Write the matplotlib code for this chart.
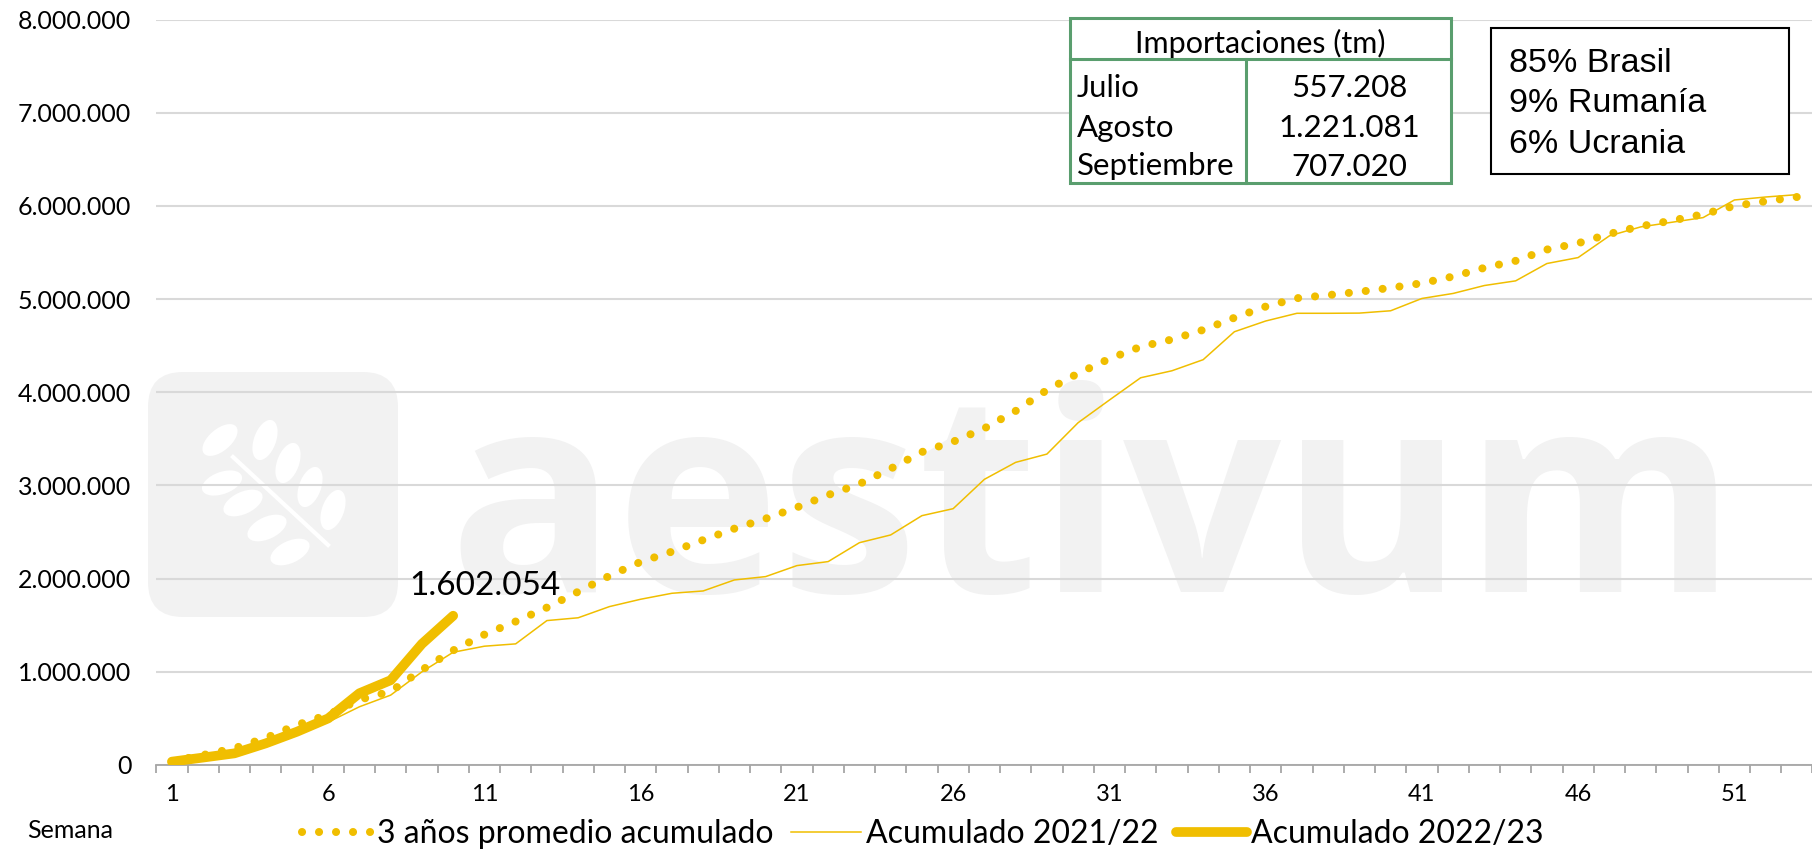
import matplotlib
matplotlib.use("Agg")
import matplotlib.pyplot as plt
from matplotlib.patches import Rectangle, FancyBboxPatch, Ellipse
from matplotlib.lines import Line2D
from matplotlib.ticker import FixedLocator, FuncFormatter

plt.rcParams['font.family'] = ['Lato', 'DejaVu Sans']

# data (tm acumuladas por semana)
semanas = list(range(1, 54))
promedio_3a = [0.04, 0.107, 0.18, 0.29, 0.43, 0.54, 0.70, 0.79, 1.02, 1.23,
               1.40, 1.54, 1.69, 1.86, 2.03, 2.18, 2.29, 2.415, 2.537, 2.644,
               2.765, 2.898, 3.016, 3.18, 3.359, 3.47, 3.613, 3.80, 4.024, 4.203,
               4.36, 4.489, 4.567, 4.67, 4.80, 4.92, 5.01, 5.043, 5.079, 5.121,
               5.171, 5.243, 5.336, 5.411, 5.532, 5.60, 5.70, 5.782, 5.843, 5.911,
               6.0, 6.05, 6.096]
acum_2122 = [0.02, 0.06, 0.09, 0.23, 0.34, 0.46, 0.625, 0.75, 1.0, 1.21,
             1.275, 1.30, 1.55, 1.58, 1.70, 1.779, 1.843, 1.868, 1.986, 2.022,
             2.140, 2.183, 2.386, 2.469, 2.676, 2.751, 3.066, 3.248, 3.337, 3.674,
             3.917, 4.156, 4.231, 4.35, 4.65, 4.765, 4.848, 4.848, 4.85, 4.875,
             5.007, 5.061, 5.146, 5.196, 5.382, 5.446, 5.679, 5.775, 5.825, 5.875,
             6.064, 6.096, 6.121]
acum_2223 = [0.036, 0.08, 0.125, 0.232, 0.357, 0.50, 0.77, 0.91, 1.30, 1.602054]

promedio_3a = [v * 1e6 for v in promedio_3a]
acum_2122 = [v * 1e6 for v in acum_2122]
acum_2223 = [v * 1e6 for v in acum_2223]

meses = ['Julio', 'Agosto', 'Septiembre']
importaciones = ['557.208', '1.221.081', '707.020']
origenes = ['85% Brasil', '9% Rumanía', '6% Ucrania']

W, H = 1812, 850
AMARILLO = '#F0BE00'
VERDE = '#5A9E6E'
GRIS = '#F2F2F2'


def fx(x):
    return x / W


def fy(y):
    return 1 - y / H


fig = plt.figure(figsize=(W / 100, H / 100), dpi=100)
ax = fig.add_axes([fx(156.3), fy(765), fx(1812.5 - 156.3), (765 - 19.6) / H])
ax.patch.set_visible(False)

# marca de agua
logo = FancyBboxPatch((1.48, 2.33), 2.50, 2.45, boxstyle='round,pad=0,rounding_size=0.35',
                      transform=fig.dpi_scale_trans, facecolor=GRIS, edgecolor='none', zorder=-3)
fig.add_artist(logo)
fig.add_artist(Line2D([2.33, 3.28], [8.50 - 4.57, 8.50 - 5.45], transform=fig.dpi_scale_trans,
                      color='white', lw=3, zorder=-2))
hojas = [(2.20, 4.40, 40), (2.22, 4.83, 20), (2.43, 5.03, 25), (2.67, 5.28, 25), (2.90, 5.52, 25),
         (2.65, 4.40, 70), (2.88, 4.63, 70), (3.10, 4.87, 70), (3.33, 5.10, 70)]
for hx, hy, ang in hojas:
    fig.add_artist(Ellipse((hx, 8.50 - hy), 0.42, 0.22, angle=ang, transform=fig.dpi_scale_trans,
                           facecolor='white', edgecolor='none', zorder=-2))
fig.text(fx(448), fy(592), 'aestivum', fontsize=200, fontweight='bold', family='Open Sans',
         color=GRIS, ha='left', va='baseline', zorder=-3)

# series
ax.plot(semanas, promedio_3a, color=AMARILLO, lw=5.8, linestyle=(0, (0.01, 2.1)),
        dash_capstyle='round', label='3 años promedio acumulado', zorder=3)
ax.plot(semanas, acum_2122, color=AMARILLO, lw=1.1, label='Acumulado 2021/22', zorder=3)
ax.plot(semanas[:len(acum_2223)], acum_2223, color=AMARILLO, lw=7,
        solid_capstyle='round', label='Acumulado 2022/23', zorder=4)
ax.annotate('1.602.054', xy=(semanas[len(acum_2223) - 1], acum_2223[-1]),
            xytext=(32, 30), textcoords='offset pixels', ha='center', va='center',
            fontsize=24, color='black')

ax.set_xlim(0.5, 53.5)
ax.set_ylim(0, 8e6)
ax.set_yticks([i * 1e6 for i in range(9)])
ax.yaxis.set_major_formatter(FuncFormatter(lambda v, p: f"{int(v):,}".replace(',', '.')))
ax.xaxis.set_major_locator(FixedLocator(semanas[::5]))
ax.xaxis.set_minor_locator(FixedLocator([s - 0.5 for s in semanas] + [53.5]))
ax.tick_params(axis='x', which='major', length=0, labelsize=17, pad=14)
ax.tick_params(axis='x', which='minor', length=6, width=1.3, color='#A6A6A6', direction='out')
ax.tick_params(axis='y', length=0, labelsize=18, pad=18)
ax.grid(axis='y', color='#D9D9D9', lw=1.5)
ax.set_axisbelow(True)
for s in ['top', 'right', 'left']:
    ax.spines[s].set_visible(False)
ax.spines['bottom'].set_color('#A6A6A6')
ax.spines['bottom'].set_linewidth(1.3)

fig.text(fx(27), fy(831), 'Semana', fontsize=18, ha='left', va='center')
fig.legend(loc='center', bbox_to_anchor=(fx(923), fy(834)), ncol=3, frameon=False,
           fontsize=23, handlelength=2.2, handletextpad=0.15, columnspacing=0.55,
           borderpad=0, borderaxespad=0)

# tabla de importaciones
tl, tr, tt, th, tb, tc = 1070, 1451, 18, 59, 183, 1246
fig.add_artist(Rectangle((fx(tl), fy(tb)), fx(tr - tl), (tb - tt) / H, transform=fig.transFigure,
                         facecolor='white', edgecolor=VERDE, lw=2.2, zorder=5))
fig.add_artist(Line2D([fx(tl), fx(tr)], [fy(th), fy(th)], transform=fig.transFigure,
                      color=VERDE, lw=2.2, zorder=6))
fig.add_artist(Line2D([fx(tc), fx(tc)], [fy(th), fy(tb)], transform=fig.transFigure,
                      color=VERDE, lw=2.2, zorder=6))
fig.text(fx((tl + tr) / 2), fy(53), 'Importaciones (tm)', fontsize=22, ha='center',
         va='baseline', zorder=7)
for mes, val, yb in zip(meses, importaciones, [97, 137, 175.5]):
    fig.text(fx(1077), fy(yb), mes, fontsize=22.5, ha='left', va='baseline', zorder=7)
    fig.text(fx(1349), fy(yb), val, fontsize=22.5, ha='center', va='baseline', zorder=7)

# cuadro de origenes
fig.add_artist(Rectangle((fx(1491), fy(174)), fx(1789 - 1491), (174 - 28) / H,
                         transform=fig.transFigure, facecolor='white', edgecolor='black',
                         lw=1.5, zorder=5))
for txt, yb in zip(origenes, [71.7, 111.7, 153]):
    fig.text(fx(1509), fy(yb), txt, fontsize=24.5, family='Liberation Sans',
             ha='left', va='baseline', zorder=7)

fig.savefig('out.png', dpi=100)
